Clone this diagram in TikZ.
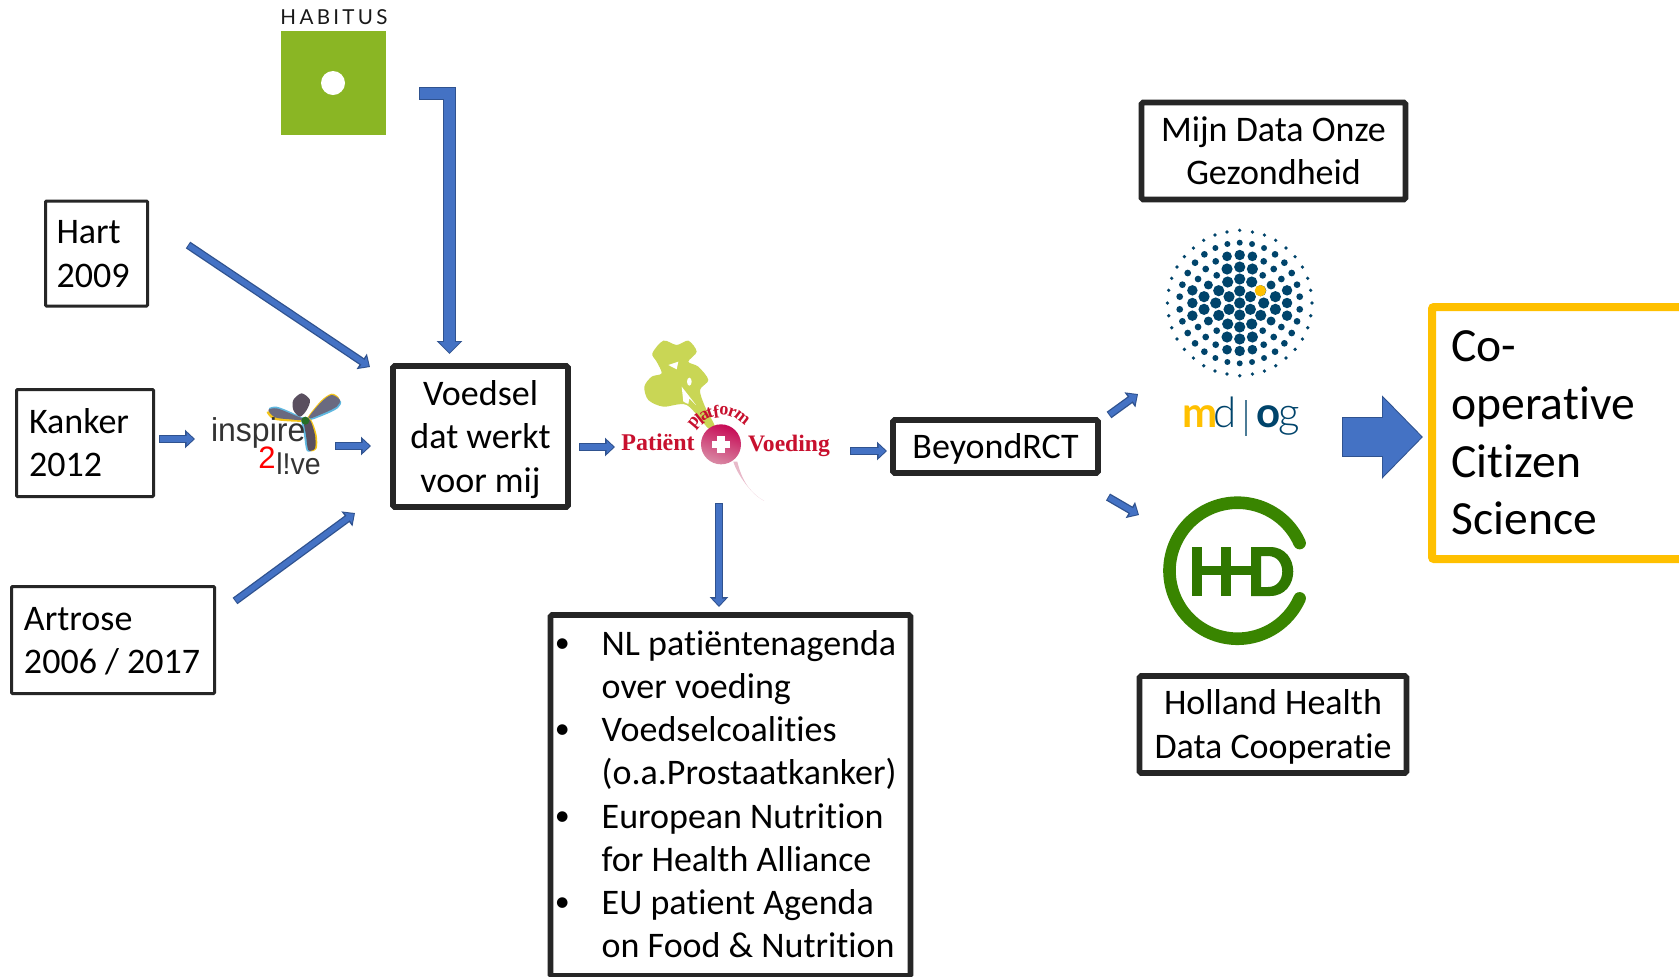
\documentclass[tikz,border=0pt]{standalone}
\usepackage{fontspec}
\setmainfont{Carlito}[Ligatures=NoCommon]
\newfontfamily\latofont{Lato}
\newfontfamily\latolight{Lato Light}
\newfontfamily\logoserif{Liberation Serif}
\newfontfamily\logosans{Liberation Sans}
\usetikzlibrary{arrows.meta,calc}
\definecolor{arrfill}{HTML}{4472C4}
\definecolor{arrline}{HTML}{2F528F}
\definecolor{boxline}{HTML}{262626}
\definecolor{orangeline}{HTML}{FFC000}
\definecolor{habgreen}{HTML}{8AB624}
\definecolor{dotblue}{HTML}{00446B}
\definecolor{hhdring}{HTML}{398500}
\definecolor{hhdtext}{HTML}{2F7700}
\definecolor{radred}{HTML}{C8102E}
\definecolor{radtop}{HTML}{C70A55}
\definecolor{radbot}{HTML}{D98AA5}
\definecolor{leaf}{HTML}{C9D655}
\definecolor{petalgrey}{HTML}{6A6A80}
\definecolor{petaldark}{HTML}{5A4F5F}
\definecolor{fringeb}{HTML}{5FB8E0}
\definecolor{fringey}{HTML}{F5C518}
\newcommand\topfix{\rule{0pt}{16pt}}
\newcommand\botfix{\rule[-3.9pt]{0pt}{3.9pt}}
\tikzset{
  arrowbase/.style n args={6}{
    line width=#4pt, draw=arrfill, line cap=butt, line join=miter,
    -{Triangle[length=#5pt,width=#6pt]},
    shorten >=0.72pt, shorten <=0.5pt,
    preaction={draw=arrline, line width=#1pt, shorten >=0pt, shorten <=0pt, -{Triangle[length=#2pt,width=#3pt]}}
  },
  blk/.style={arrowbase={4}{5}{9}{2.7}{3.5}{6.2}},
  blkbent/.style={arrowbase={6.5}{6.5}{12.5}{5.5}{5.3}{10.2}},
  blkbig/.style={arrowbase={20}{20.5}{40.5}{19}{19.3}{38.1}},
  txt/.style={font=\fontsize{18}{21.7}\selectfont, text=black, inner sep=0pt},
  thinbox/.style={txt, draw=boxline, line width=1.5pt, fill=white, rounded corners=0.5pt},
  thickbox/.style={txt, draw=boxline, line width=2.8pt, fill=white, rounded corners=0.8pt, align=center},
}
\begin{document}
\begin{tikzpicture}[x=0.5pt,y=-0.5pt]
\path[use as bounding box, fill=white] (0,0) rectangle (1679,976);

% text boxes
\node[thinbox, minimum width=51pt, minimum height=52.5pt, text width=40pt, align=flush left] (hart) at (96.5,253.5) {\topfix Hart\\2009\botfix};
\node[thinbox, minimum width=68.5pt, minimum height=53.5pt, text width=56pt, align=flush left] (kanker) at (85,443) {\topfix Kanker\\2012\botfix};
\node[thinbox, minimum width=101.5pt, minimum height=53.5pt, text width=89pt, align=flush left] (artrose) at (113,640) {\topfix Artrose\\\mbox{2006 / 2017}\botfix};
\node[thickbox, minimum width=87.5pt, minimum height=70.5pt] (voedsel) at (480.5,436.5) {\topfix Voedsel\\dat werkt\\voor mij\botfix};
\node[thickbox, minimum width=102.5pt, minimum height=26.5pt] (beyond) at (995.5,446.5) {\topfix BeyondRCT\botfix};
\node[thickbox, minimum width=132pt, minimum height=48.5pt] (mijn) at (1273.5,151) {\topfix Mijn Data Onze\\Gezondheid\botfix};
\node[thickbox, minimum width=133.5pt, minimum height=48.5pt] (holland) at (1273,724.5) {\topfix Holland Health\\Data Cooperatie\botfix};
\newcommand\bulletmark{\makebox[21.6pt][l]{\kern-1.8pt\raisebox{1.5pt}{\fontsize{15}{15}\selectfont•}}}
\node[thickbox, minimum width=180pt, minimum height=180.5pt, text width=172pt, align=flush left, inner xsep=0pt, font=\fontsize{18}{21.6}\selectfont] (lijst) at (730.5,795.5) {%
\topfix\bulletmark\mbox{NL patiëntenagenda}\\
\hspace*{21.6pt}\mbox{over voeding}\\
\bulletmark\mbox{Voedselcoalities}\\
\hspace*{21.6pt}\mbox{(o.a.Prostaatkanker)}\\
\bulletmark\mbox{European Nutrition}\\
\hspace*{21.6pt}\mbox{for Health Alliance}\\
\bulletmark\mbox{EU patient Agenda}\\
\hspace*{21.6pt}\mbox{on Food \& Nutrition}\rule[-5pt]{0pt}{5pt}};
\node[draw=orangeline, line width=4pt, rounded corners=1pt, fill=white, minimum width=160pt, minimum height=126pt, inner sep=0pt] (coop) at (1592,433) {};
\node[anchor=west, inner sep=0pt, align=flush left, font=\fontsize{23.8}{28.9}\selectfont] (cooptext) at (1451,433) {Co-\\operative\\Citizen\\Science};

% Habitus logo
\node[inner sep=0pt, font=\latofont\fontsize{10.3}{12}\selectfont\addfontfeature{LetterSpace=16}, text=black!90] (habitus) at (334,17) {HABITUS};
\fill[habgreen] (281,31) rectangle (386,135);
\fill[white] (333,83) circle (12);

% Inspire2Live logo
\begin{scope}[shift={(200,380)},x=0.5pt/3,y=-0.5pt/3]
  \def\lefpet{(205,90) (230,85) (270,100) (315,120) (270,118) (225,112)}
  \def\rigpet{(420,60) (395,45) (365,65) (325,115) (370,100) (410,80)}
  \def\cenpet{(305,40) (280,60) (280,90) (300,110) (320,90) (330,60)}
  \def\stempet{(310,115) (330,120) (345,165) (345,205) (325,210) (318,165)}
  \fill[fringey] plot[smooth cycle] coordinates {(200,96) (225,96) (265,106) (312,124) (265,124) (220,118)};
  \fill[fringeb] plot[smooth cycle] coordinates {(207,85) (230,80) (270,95) (315,118) (270,108) (225,100)};
  \fill[fringey] plot[smooth cycle] coordinates {(417,54) (395,41) (363,62) (323,113) (365,92) (407,74)};
  \fill[fringeb] plot[smooth cycle] coordinates {(423,65) (398,51) (368,71) (328,119) (373,105) (413,85)};
  \fill[fringeb] plot[smooth cycle] coordinates {(304,115) (326,120) (340,165) (340,208) (320,212) (312,165)};
  \fill[fringey] plot[smooth cycle] coordinates {(314,115) (334,120) (350,165) (350,205) (330,212) (322,165)};
  \fill[petalgrey] plot[smooth cycle] coordinates \lefpet;
  \fill[petalgrey] plot[smooth cycle] coordinates \rigpet;
  \fill[petaldark] plot[smooth cycle] coordinates \cenpet;
  \fill[petaldark] plot[smooth cycle] coordinates \stempet;
  \fill[black!60!green!70!gray] (316,122) circle (12);
  \node[inner sep=0pt, anchor=base west, text=black!80, font=\logosans\fontsize{16.5}{15}\selectfont, xscale=.97] (insp) at (32,185) {inspire};
  \node[inner sep=0pt, anchor=base west, text=red, font=\logosans\fontsize{15.5}{15}\selectfont] (twee) at (174,265) {2};
  \node[inner sep=0pt, anchor=base west, text=black!80, font=\logosans\fontsize{15}{15}\selectfont, xscale=.95] (live) at (228,283) {l!ve};
\end{scope}

% Platform Patient + Voeding logo
\begin{scope}[shift={(620,330)},x=0.5pt/3,y=-0.5pt/3]
  \fill[leaf] plot[smooth cycle] coordinates {(97,70) (130,32) (170,45) (205,32) (230,65) (205,95) (235,110) (265,150) (240,180) (255,230) (285,290) (265,295) (200,225) (130,230) (85,210) (73,170) (95,140) (125,130) (110,95)};
  \fill[white] (145,105) -- (175,95) -- (170,118) -- cycle;
  \fill[white] (208,155) ellipse (7 and 12);
  \fill[white] (185,170) -- (228,225) -- (208,205) -- (205,222) -- (190,215) -- cycle;
  \fill[radbot!60!white] (340,395) .. controls (350,430) and (395,495) .. (432,512) .. controls (390,490) and (365,450) .. (352,395) -- cycle;
  \shade[top color=radtop, bottom color=radbot, shading angle=-20] (303,343) circle (60);
  \fill[white] (292,318) rectangle (314,368);
  \fill[white] (275,332) rectangle (331,354);
  \foreach \n/\c/\a in {1/p/-50,2/l/-39,3/a/-29,4/t/-19,5/f/-8,6/o/5,7/r/19,8/m/38}{
    \node[inner sep=0pt, text=radred, font=\logoserif\bfseries\fontsize{9}{9}\selectfont, rotate=-\a] (pf\n) at ($(303,345)+({\a-90}:102)$) {\c};
  }
  \node[inner sep=0pt, anchor=base west, text=radred, font=\logoserif\bfseries\fontsize{12}{12}\selectfont] (patient) at (3,360) {Patiënt};
  \node[inner sep=0pt, anchor=base west, text=radred, font=\logoserif\bfseries\fontsize{11.8}{12}\selectfont] (voeding) at (383,364) {Voeding};
\end{scope}

% mdog logo
\begin{scope}[shift={(1239.7,303)},x=0.5pt/3,y=-0.5pt/3]
  \foreach \dx/\dy/\r in {38/213/5,74/204/5,108/188/5,139/165/5,166/139/5,188/108/5,204/74/5,213/38/5,
    37/177/8,73/165/8,106/146/9,134/121/9,156/90/9,172/55/9,180/19/9,
    38/140/13,72/125/9,102/102/9,125/72/9,142/38/14,
    38/102/15,69/83/9,94/54/12,107/19/15,
    63/37/15,32/19/15,36/63/15}{
    \fill[dotblue] (\dx,\dy) circle ({\r*1.12});
    \fill[dotblue] (-\dx,\dy) circle ({\r*1.12});
    \fill[dotblue] (\dx,-\dy) circle ({\r*1.12});
    \fill[dotblue] (-\dx,-\dy) circle ({\r*1.12});
  }
  \foreach \dy/\r in {218/5,181/8,144/14,108/15,72/15,36/15}{
    \fill[dotblue] (0,\dy) circle ({\r*1.12});
    \fill[dotblue] (0,-\dy) circle ({\r*1.12});
  }
  \foreach \dx/\r in {217/5,142/14,72/15}{
    \fill[dotblue] (\dx,0) circle ({\r*1.12});
    \fill[dotblue] (-\dx,0) circle ({\r*1.12});
  }
  \fill[dotblue] (0,0) circle (17);
  \fill[orangeline] (62,-37) circle (17);
\end{scope}
\node[inner sep=0pt, anchor=base west, text=orangeline, font=\latofont\bfseries\fontsize{21}{21}\selectfont] (mdm) at (1182,427) {m};
\node[inner sep=0pt, anchor=base west, text=dotblue, font=\latolight\fontsize{21}{21}\selectfont] (mdd) at (1213,427) {d};
\fill[dotblue!70] (1245.4,400) rectangle (1246.6,436);
\node[inner sep=0pt, anchor=base west, text=dotblue, font=\latofont\bfseries\fontsize{21}{21}\selectfont] (mdo) at (1256,427) {o};
\node[inner sep=0pt, anchor=base west, text=dotblue, font=\latolight\fontsize{21}{21}\selectfont] (mdg) at (1278,427) {g};

% HHD logo
\draw[hhdring, line width=6.3pt, line cap=round] (1237.5,570.7) ++(-24:68) arc[start angle=-24, delta angle=-312, radius=68];
\fill[hhdtext] (1192,547) rectangle (1202,596);
\fill[hhdtext] (1221,547) rectangle (1231,596);
\fill[hhdtext] (1192,566) rectangle (1261,575);
\fill[hhdtext, even odd rule] (1251,547) -- (1270,547) .. controls (1301,547) and (1301,596) .. (1270,596) -- (1251,596) -- cycle
  (1261,556) -- (1268,556) .. controls (1287,556) and (1287,587) .. (1268,587) -- (1261,587) -- cycle;

% connector end points
\coordinate (a1s) at (188,245); \coordinate (a1e) at (370,367);
\coordinate (a2s) at (159,439); \coordinate (a2e) at (195,439);
\coordinate (a3s) at (235,601); \coordinate (a3e) at (355,513);
\coordinate (a4s) at (335,446); \coordinate (a4e) at (371,446);
\coordinate (a5s) at (419,93);  \coordinate (a5m) at (449.5,93); \coordinate (a5e) at (449.5,354);
\coordinate (a6s) at (579,447); \coordinate (a6e) at (615,447);
\coordinate (a7s) at (850,451); \coordinate (a7e) at (887,451);
\coordinate (a8s) at (719,503); \coordinate (a8e) at (719,607);
\coordinate (a9s) at (1109,415); \coordinate (a9e) at (1138,394);
\coordinate (a10s) at (1108,497); \coordinate (a10e) at (1139,515);
\coordinate (a11s) at (1342,437); \coordinate (a11e) at (1423,437);

\draw[blk] (a1s) -- (a1e);
\draw[blk] (a2s) -- (a2e);
\draw[blk] (a3s) -- (a3e);
\draw[blk] (a4s) -- (a4e);
\draw[blkbent] (a5s) -- (a5m) -- (a5e);
\draw[blk] (a6s) -- (a6e);
\draw[blk] (a7s) -- (a7e);
\draw[blk] (a8s) -- (a8e);
\draw[blk] (a9s) -- (a9e);
\draw[blk] (a10s) -- (a10e);
\draw[blkbig] (a11s) -- (a11e);
\end{tikzpicture}
\end{document}
